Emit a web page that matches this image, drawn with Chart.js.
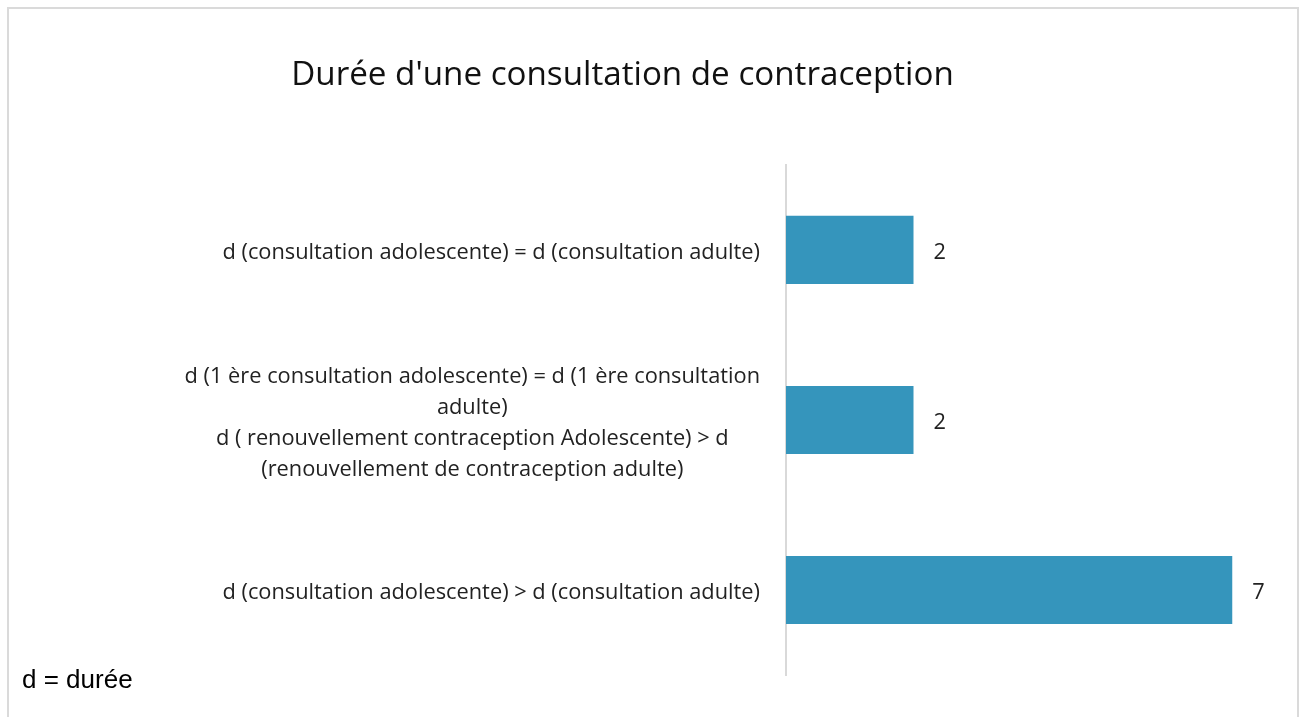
<!DOCTYPE html>
<html>
<head>
<meta charset="utf-8">
<script src="https://cdn.jsdelivr.net/npm/chart.js@4/dist/chart.umd.min.js"></script>
<style>
	html, body { margin: 0; padding: 0; background: #fff; }
	#wrap { position: relative; width: 1303px; height: 717px; overflow: hidden; }
	#frame { position: absolute; left: 7px; top: 7px; width: 1288px; height: 720px; border: 2px solid #dadada; border-bottom: none; }
	#chart { position: absolute; left: 0; top: 0; }
	#note { position: absolute; left: 22px; top: 666px; font: 26px/26px "Liberation Sans", Arial, sans-serif; color: #000; }
</style>
</head>
<body>
<div id="wrap">
	<div id="frame"></div>
	<canvas id="chart" width="1303" height="717"></canvas>
	<div id="note">d = durée</div>
</div>
<script>
// --- data ---
const titleText = "Durée d'une consultation de contraception";
const categories = [
	['d (consultation adolescente) = d (consultation adulte)'],
	['d (1 ère consultation adolescente) = d (1 ère consultation', 'adulte)', 'd ( renouvellement contraception Adolescente) > d', '(renouvellement de contraception adulte)'],
	['d (consultation adolescente) > d (consultation adulte)']
];
const counts = [2, 2, 7];
const xMax = 7.2;

const LABEL_FONT = '21.8px "Open Sans", sans-serif';
const TEXT_COLOR = '#222222';

(function(){
	// tick labels: block right-aligned to the axis, lines centred inside the block
	const labelPlugin = {
		id: 'blockLabels',
		afterDraw(chart){
			const ctx = chart.ctx;
			const y = chart.scales.y;
			const right = chart.chartArea.left - 26;
			const lineH = 31;
			ctx.save();
			ctx.font = LABEL_FONT;
			ctx.fillStyle = TEXT_COLOR;
			ctx.textBaseline = 'middle';
			ctx.textAlign = 'center';
			categories.forEach((lines, i) => {
				const cy = y.getPixelForTick(i) + 3;
				const w = Math.max(...lines.map(l => ctx.measureText(l).width));
				const cx = right - w / 2;
				const top = cy - (lines.length - 1) * lineH / 2;
				lines.forEach((l, j) => ctx.fillText(l, cx, top + j * lineH));
			});
			ctx.restore();
		}
	};

	// value labels next to the bars
	const valuePlugin = {
		id: 'valueLabels',
		afterDatasetsDraw(chart){
			const ctx = chart.ctx;
			const meta = chart.getDatasetMeta(0);
			ctx.save();
			ctx.font = LABEL_FONT;
			ctx.fillStyle = TEXT_COLOR;
			ctx.textBaseline = 'middle';
			ctx.textAlign = 'left';
			meta.data.forEach((bar, i) => {
				ctx.fillText(String(counts[i]), bar.x + 20, bar.y + 3);
			});
			ctx.restore();
		}
	};

	const canvas = document.getElementById('chart');
	new Chart(canvas.getContext('2d'), {
		type: 'bar',
		data: {
			labels: categories,
			datasets: [{
				data: counts,
				backgroundColor: '#3595bc',
				borderWidth: 0,
				barPercentage: 0.8,
				categoryPercentage: 0.5
			}]
		},
		options: {
			indexAxis: 'y',
			responsive: false,
			animation: false,
			layout: { padding: { left: 0, right: 58, top: 0, bottom: 42 } },
			plugins: {
				legend: { display: false },
				tooltip: { enabled: false },
				title: {
					display: true,
					text: titleText,
					color: '#111111',
					font: { family: '"Open Sans", sans-serif', size: 33.2, weight: 'normal', lineHeight: 1.2 },
					padding: { top: 56, bottom: 69 }
				}
			},
			scales: {
				x: { display: false, min: 0, max: xMax },
				y: {
					grid: { display: false },
					border: { display: true, color: '#d9d9d9', width: 2 },
					ticks: { color: 'transparent', font: { size: 20 } },
					afterFit(scale){ scale.width = 786; }
				}
			}
		},
		plugins: [labelPlugin, valuePlugin]
	});
})();
</script>
</body>
</html>
